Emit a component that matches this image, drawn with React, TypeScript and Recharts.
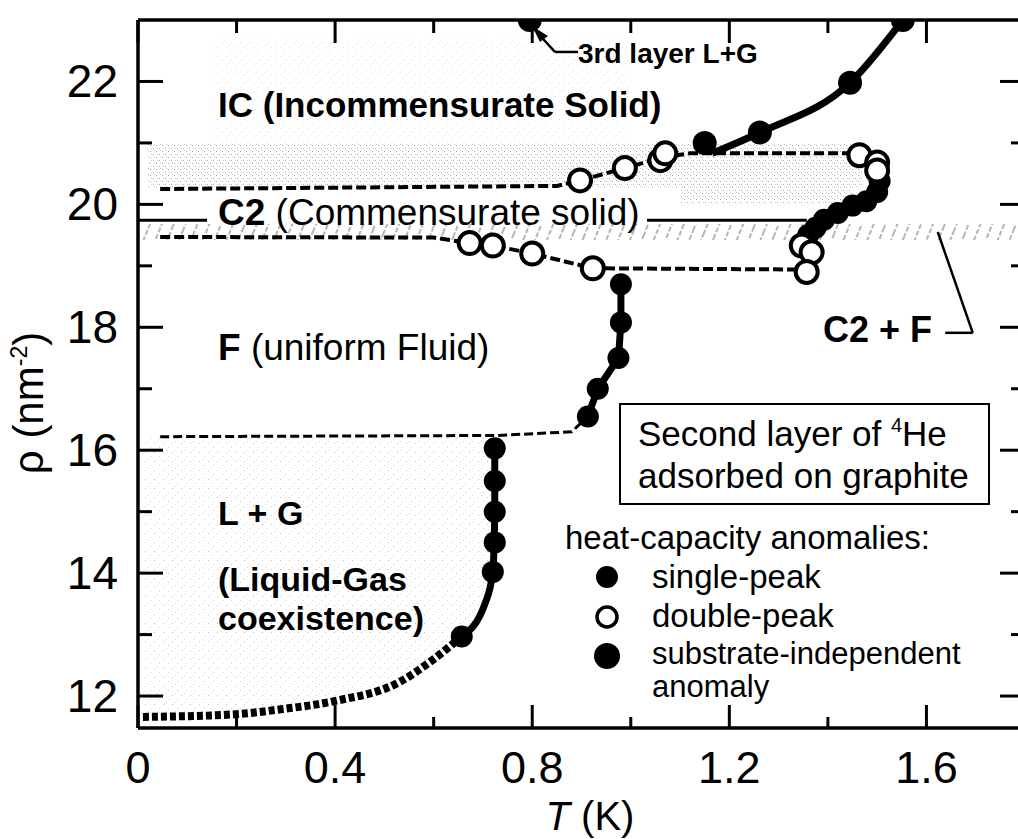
import React from "react";
import {
  Area,
  ComposedChart,
  Line,
  ReferenceArea,
  ReferenceLine,
  Scatter,
  XAxis,
  YAxis,
} from "recharts";

const FONT = "'Liberation Sans', Arial, Helvetica, sans-serif";

// axis ticks
const T_TICKS = [0, 0.2, 0.4, 0.6, 0.8, 1.0, 1.2, 1.4, 1.6, 1.8];
const RHO_TICKS = [12, 13, 14, 15, 16, 17, 18, 19, 20, 21, 22];

// filled dots: single-peak anomalies
const thirdLayerDot = [{ T: 0.795, rho: 23.0 }];
const icDots = [
  { T: 1.15, rho: 21.0 },
  { T: 1.262, rho: 21.17 },
  { T: 1.445, rho: 21.98 },
  { T: 1.552, rho: 23.0 },
];
const icLine = [
  { T: 1.165, rho: 20.83 },
  { T: 1.262, rho: 21.17 },
  { T: 1.445, rho: 21.98 },
  { T: 1.552, rho: 23.0 },
];
const c2fChain = [
  { T: 1.505, rho: 20.38 },
  { T: 1.5, rho: 20.2 },
  { T: 1.478, rho: 20.05 },
  { T: 1.45, rho: 19.98 },
  { T: 1.42, rho: 19.86 },
  { T: 1.392, rho: 19.75 },
  { T: 1.375, rho: 19.62 },
  { T: 1.36, rho: 19.5 },
];
const meltChain = [
  { T: 0.913, rho: 16.55 },
  { T: 0.933, rho: 17.0 },
  { T: 0.975, rho: 17.5 },
  { T: 0.98, rho: 18.08 },
  { T: 0.98, rho: 18.7 },
];
const lgDots = [
  { T: 0.657, rho: 12.97 },
  { T: 0.72, rho: 14.02 },
  { T: 0.724, rho: 14.5 },
  { T: 0.724, rho: 15.0 },
  { T: 0.724, rho: 15.5 },
  { T: 0.724, rho: 16.03 },
];
const lgLine = [
  { T: 0.657, rho: 12.97 },
  { T: 0.704, rho: 13.5 },
  { T: 0.72, rho: 14.02 },
  { T: 0.724, rho: 15.0 },
  { T: 0.724, rho: 16.03 },
];
// extrapolated (dotted) L+G boundary
const lgDotted = [
  { T: 0.01, rho: 11.66 },
  { T: 0.19, rho: 11.7 },
  { T: 0.295, rho: 11.79 },
  { T: 0.4, rho: 11.92 },
  { T: 0.531, rho: 12.23 },
  { T: 0.6, rho: 12.6 },
  { T: 0.657, rho: 12.97 },
];

// open circles: double-peak anomalies
const openUpper = [
  { T: 0.897, rho: 20.39 },
  { T: 0.988, rho: 20.59 },
  { T: 1.06, rho: 20.72 },
  { T: 1.07, rho: 20.83 },
  { T: 1.464, rho: 20.8 },
  { T: 1.5, rho: 20.68 },
  { T: 1.5, rho: 20.55 },
];
const openLower = [
  { T: 0.673, rho: 19.37 },
  { T: 0.72, rho: 19.33 },
  { T: 0.8, rho: 19.2 },
  { T: 0.923, rho: 18.96 },
  { T: 1.347, rho: 19.33 },
  { T: 1.367, rho: 19.22 },
  { T: 1.357, rho: 18.9 },
];

// dashed phase boundaries
const dashUpper = [
  { T: 0.045, rho: 20.25 },
  { T: 0.85, rho: 20.3 },
  { T: 0.897, rho: 20.39 },
  { T: 0.988, rho: 20.59 },
  { T: 1.065, rho: 20.77 },
  { T: 1.12, rho: 20.83 },
  { T: 1.464, rho: 20.83 },
];
const dashLower = [
  { T: 0.045, rho: 19.47 },
  { T: 0.6, rho: 19.46 },
  { T: 0.673, rho: 19.37 },
  { T: 0.72, rho: 19.33 },
  { T: 0.8, rho: 19.2 },
  { T: 0.923, rho: 18.96 },
  { T: 1.34, rho: 18.94 },
];
const dashFluid = [
  { T: 0.045, rho: 16.22 },
  { T: 0.73, rho: 16.24 },
  { T: 0.88, rho: 16.3 },
  { T: 0.913, rho: 16.55 },
];

// thin C2 line, broken by its label
const c2LineA = [
  { T: 0, rho: 19.74 },
  { T: 0.14, rho: 19.74 },
];
const c2LineB = [
  { T: 1.033, rho: 19.74 },
  { T: 1.357, rho: 19.74 },
];

// C2 + F hatched band
const C2F_BAND = [19.42, 19.68];

// stippled L+G region: lower edge follows the boundary, upper edge the dashed line
const lgShade = [...lgDotted, ...lgLine.slice(1)].map((p) => ({ T: p.T, band: [p.rho, 16.22] }));

// annotation leaders
const thirdLayerLeader = [
  { x: 0.812, y: 22.78 },
  { x: 0.846, y: 22.48 },
  { x: 0.893, y: 22.48 },
];
const c2fLeader = [
  { x: 1.638, y: 17.91 },
  { x: 1.694, y: 17.91 },
  { x: 1.623, y: 19.55 },
];

const isMajor = (v: number, step: number) => Math.abs(v / step - Math.round(v / step)) < 1e-6;

function BottomTick({ x, y, payload }: any) {
  const v = payload.value;
  const major = isMajor(v, 0.4);
  return (
    <g>
      <line x1={x} x2={x} y1={y} y2={y - (major ? 23 : 11)} stroke="#000" strokeWidth={3} />
      {major && (
        <text x={x} y={y + 55} textAnchor="middle" fontSize={45} fontFamily={FONT} fill="#000">
          {v === 0 ? "0" : v.toFixed(1)}
        </text>
      )}
    </g>
  );
}

function TopTick({ x, y, payload }: any) {
  const major = isMajor(payload.value, 0.4);
  return <line x1={x} x2={x} y1={y} y2={y + (major ? 23 : 13)} stroke="#000" strokeWidth={3} />;
}

function LeftTick({ x, y, payload }: any) {
  const v = payload.value;
  const major = v % 2 === 0;
  return (
    <g>
      <line x1={x} x2={x + (major ? 25 : 14)} y1={y} y2={y} stroke="#000" strokeWidth={3} />
      {major && (
        <text x={x - 20} y={y + 16} textAnchor="end" fontSize={46} fontFamily={FONT} fill="#000">
          {v}
        </text>
      )}
    </g>
  );
}

function RightTick({ x, y, payload }: any) {
  const major = payload.value % 2 === 0;
  return <line x1={x} x2={x - (major ? 25 : 14)} y1={y} y2={y} stroke="#000" strokeWidth={3} />;
}

const filledDot = (r: number) => (p: any) => <circle cx={p.cx} cy={p.cy} r={r} fill="#000" />;
const openDot = (p: any) => (
  <circle cx={p.cx} cy={p.cy} r={11} fill="#fff" stroke="#000" strokeWidth={4} />
);

function Overlay() {
  const t = { fontFamily: FONT, fill: "#000" } as const;
  return (
    <svg
      width={1040}
      height={839}
      style={{ position: "absolute", left: 0, top: 0, pointerEvents: "none" }}
    >
      {/* phase labels */}
      <text x={218} y={117} fontSize={35} fontWeight="bold" {...t}>
        IC (Incommensurate Solid)
      </text>
      <text x={218} y={225} fontSize={37} {...t}>
        <tspan fontWeight="bold">C2</tspan> (Commensurate solid)
      </text>
      <text x={218} y={360} fontSize={37} {...t}>
        <tspan fontWeight="bold">F</tspan> (uniform Fluid)
      </text>
      <text x={218} y={525} fontSize={34} fontWeight="bold" {...t}>
        L + G
      </text>
      <text x={218} y={591} fontSize={34} fontWeight="bold" {...t}>
        (Liquid-Gas
      </text>
      <text x={218} y={630} fontSize={34} fontWeight="bold" {...t}>
        coexistence)
      </text>
      <text x={578} y={63} fontSize={28} fontWeight="bold" {...t}>
        3rd layer L+G
      </text>
      <text x={823} y={342} fontSize={36} fontWeight="bold" {...t}>
        C2 + F
      </text>
      <polygon points="532,26 548,36 540,42" fill="#000" />

      {/* info box */}
      <rect x={620} y={404} width={369} height={100} fill="#fff" stroke="#000" strokeWidth={2} />
      <text x={638} y={446} fontSize={35} {...t}>
        Second layer of <tspan fontSize={20} dy={-14}>4</tspan>
        <tspan dy={14}>He</tspan>
      </text>
      <text x={638} y={488} fontSize={35} {...t}>
        adsorbed on graphite
      </text>

      {/* legend */}
      <text x={565} y={549} fontSize={33} {...t}>
        heat-capacity anomalies:
      </text>
      <circle cx={607} cy={577} r={11} fill="#000" />
      <text x={652} y={588} fontSize={33} {...t}>
        single-peak
      </text>
      <circle cx={607} cy={617} r={10} fill="#fff" stroke="#000" strokeWidth={3.5} />
      <text x={652} y={627} fontSize={33} {...t}>
        double-peak
      </text>
      <circle cx={607} cy={656} r={13} fill="#000" />
      <text x={652} y={664} fontSize={31} {...t}>
        substrate-independent
      </text>
      <text x={652} y={697} fontSize={31} {...t}>
        anomaly
      </text>

      {/* axis titles */}
      <text
        x={43}
        y={403}
        fontSize={42}
        textAnchor="middle"
        transform="rotate(-90, 43, 403)"
        {...t}
      >
        ρ (nm<tspan fontSize={23} dy={-16}>-2</tspan>
        <tspan dy={16}>)</tspan>
      </text>
      <text x={590} y={830} fontSize={40} textAnchor="middle" {...t}>
        <tspan fontStyle="italic">T</tspan> (K)
      </text>
    </svg>
  );
}

export default function App() {
  return (
    <div
      style={{
        position: "fixed",
        left: 0,
        top: 0,
        width: 1018,
        height: 839,
        overflow: "hidden",
        background: "#fff",
      }}
    >
      <div style={{ position: "relative", width: 1040, height: 839 }}>
        <ComposedChart width={1040} height={839} margin={{ top: 0, right: 0, left: 0, bottom: 0 }}>
          <defs>
            <pattern id="stipple" width="9" height="9" patternUnits="userSpaceOnUse">
              <rect x="1" y="2" width="1" height="1" fill="#9a9a9a" />
              <rect x="6" y="6" width="1" height="1" fill="#b0b0b0" />
              <rect x="4" y="0" width="1" height="1" fill="#c0c0c0" />
            </pattern>
            <pattern id="stippleDense" width="6" height="6" patternUnits="userSpaceOnUse">
              <rect x="0" y="1" width="1" height="1" fill="#8a8a8a" />
              <rect x="3" y="4" width="1" height="1" fill="#9a9a9a" />
              <rect x="4" y="0" width="1" height="1" fill="#b5b5b5" />
              <rect x="1" y="4" width="1" height="1" fill="#c0c0c0" />
            </pattern>
            <pattern
              id="hatch"
              width="11"
              height="24"
              patternUnits="userSpaceOnUse"
              patternTransform="rotate(22)"
            >
              <line x1="3" y1="0" x2="3" y2="24" stroke="#6e6e6e" strokeWidth="2" strokeDasharray="5 2" />
            </pattern>
          </defs>

          <XAxis
            dataKey="T"
            type="number"
            domain={[0, 1.8]}
            ticks={T_TICKS}
            interval={0}
            height={111}
            tickSize={0}
            tickMargin={0}
            tickLine={false}
            axisLine={{ stroke: "#000", strokeWidth: 3.5 }}
            tick={BottomTick}
            allowDataOverflow
          />
          <XAxis
            xAxisId="top"
            orientation="top"
            dataKey="T"
            type="number"
            domain={[0, 1.8]}
            ticks={T_TICKS}
            interval={0}
            height={20}
            tickSize={0}
            tickMargin={0}
            tickLine={false}
            axisLine={{ stroke: "#000", strokeWidth: 3.5 }}
            tick={TopTick}
            allowDataOverflow
          />
          <YAxis
            type="number"
            domain={[11.48, 23]}
            ticks={RHO_TICKS}
            interval={0}
            width={138}
            tickSize={0}
            tickMargin={0}
            tickLine={false}
            axisLine={{ stroke: "#000", strokeWidth: 3.5 }}
            tick={LeftTick}
            allowDataOverflow
          />
          <YAxis
            yAxisId="right"
            orientation="right"
            type="number"
            domain={[11.48, 23]}
            ticks={RHO_TICKS}
            interval={0}
            width={15}
            tickSize={0}
            tickMargin={0}
            tickLine={false}
            axisLine={{ stroke: "#000", strokeWidth: 3.5 }}
            tick={RightTick}
            allowDataOverflow
          />

          {/* stippled shading */}
          <ReferenceArea x1={0.15} x2={1.0} y1={21.0} y2={22.7} fill="url(#stipple)" fillOpacity={0.35} stroke="none" />
          <ReferenceArea x1={0.02} x2={1.47} y1={20.28} y2={21.0} fill="url(#stippleDense)" fillOpacity={0.8} stroke="none" />
          <ReferenceArea x1={1.1} x2={1.45} y1={20.0} y2={20.28} fill="url(#stippleDense)" fillOpacity={0.8} stroke="none" />
          <Area
            data={lgShade}
            dataKey="band"
            type="linear"
            stroke="none"
            fill="url(#stipple)"
            fillOpacity={0.6}
            isAnimationActive={false}
          />

          {/* C2 + F band */}
          <ReferenceArea x1={0} x2={1.8} y1={C2F_BAND[0]} y2={C2F_BAND[1]} fill="url(#hatch)" stroke="none" />

          {/* boundaries */}
          <Line data={c2LineA} dataKey="rho" stroke="#000" strokeWidth={3} dot={false} isAnimationActive={false} />
          <Line data={c2LineB} dataKey="rho" stroke="#000" strokeWidth={3} dot={false} isAnimationActive={false} />
          <Line data={dashUpper} dataKey="rho" stroke="#000" strokeWidth={4} strokeDasharray="10 4" dot={false} isAnimationActive={false} />
          <Line data={dashLower} dataKey="rho" stroke="#000" strokeWidth={4} strokeDasharray="10 4" dot={false} isAnimationActive={false} />
          <Line data={dashFluid} dataKey="rho" stroke="#000" strokeWidth={3} strokeDasharray="9 4" dot={false} isAnimationActive={false} />
          <Line data={lgDotted} dataKey="rho" type="monotone" stroke="#000" strokeWidth={8} strokeDasharray="6 3" dot={false} isAnimationActive={false} />
          <Line data={lgLine} dataKey="rho" type="monotone" stroke="#000" strokeWidth={7} dot={false} isAnimationActive={false} />
          <Line data={meltChain} dataKey="rho" stroke="#000" strokeWidth={7} dot={false} isAnimationActive={false} />
          <Line data={icLine} dataKey="rho" type="monotone" stroke="#000" strokeWidth={7} dot={false} isAnimationActive={false} />
          <Line data={c2fChain} dataKey="rho" stroke="#000" strokeWidth={14} dot={false} isAnimationActive={false} />

          {/* leaders */}
          <ReferenceLine segment={thirdLayerLeader.slice(0, 2)} stroke="#000" strokeWidth={2.5} />
          <ReferenceLine segment={thirdLayerLeader.slice(1, 3)} stroke="#000" strokeWidth={2.5} />
          <ReferenceLine segment={c2fLeader.slice(0, 2)} stroke="#000" strokeWidth={2.5} />
          <ReferenceLine segment={c2fLeader.slice(1, 3)} stroke="#000" strokeWidth={2.5} />

          {/* markers */}
          <Scatter data={thirdLayerDot} dataKey="rho" shape={filledDot(12)} isAnimationActive={false} />
          <Scatter data={icDots} dataKey="rho" shape={filledDot(12)} isAnimationActive={false} />
          <Scatter data={c2fChain} dataKey="rho" shape={filledDot(11)} isAnimationActive={false} />
          <Scatter data={meltChain} dataKey="rho" shape={filledDot(11)} isAnimationActive={false} />
          <Scatter data={lgDots} dataKey="rho" shape={filledDot(11)} isAnimationActive={false} />
          <Scatter data={openUpper} dataKey="rho" shape={openDot} isAnimationActive={false} />
          <Scatter data={openLower} dataKey="rho" shape={openDot} isAnimationActive={false} />
        </ComposedChart>
        <Overlay />
      </div>
    </div>
  );
}
